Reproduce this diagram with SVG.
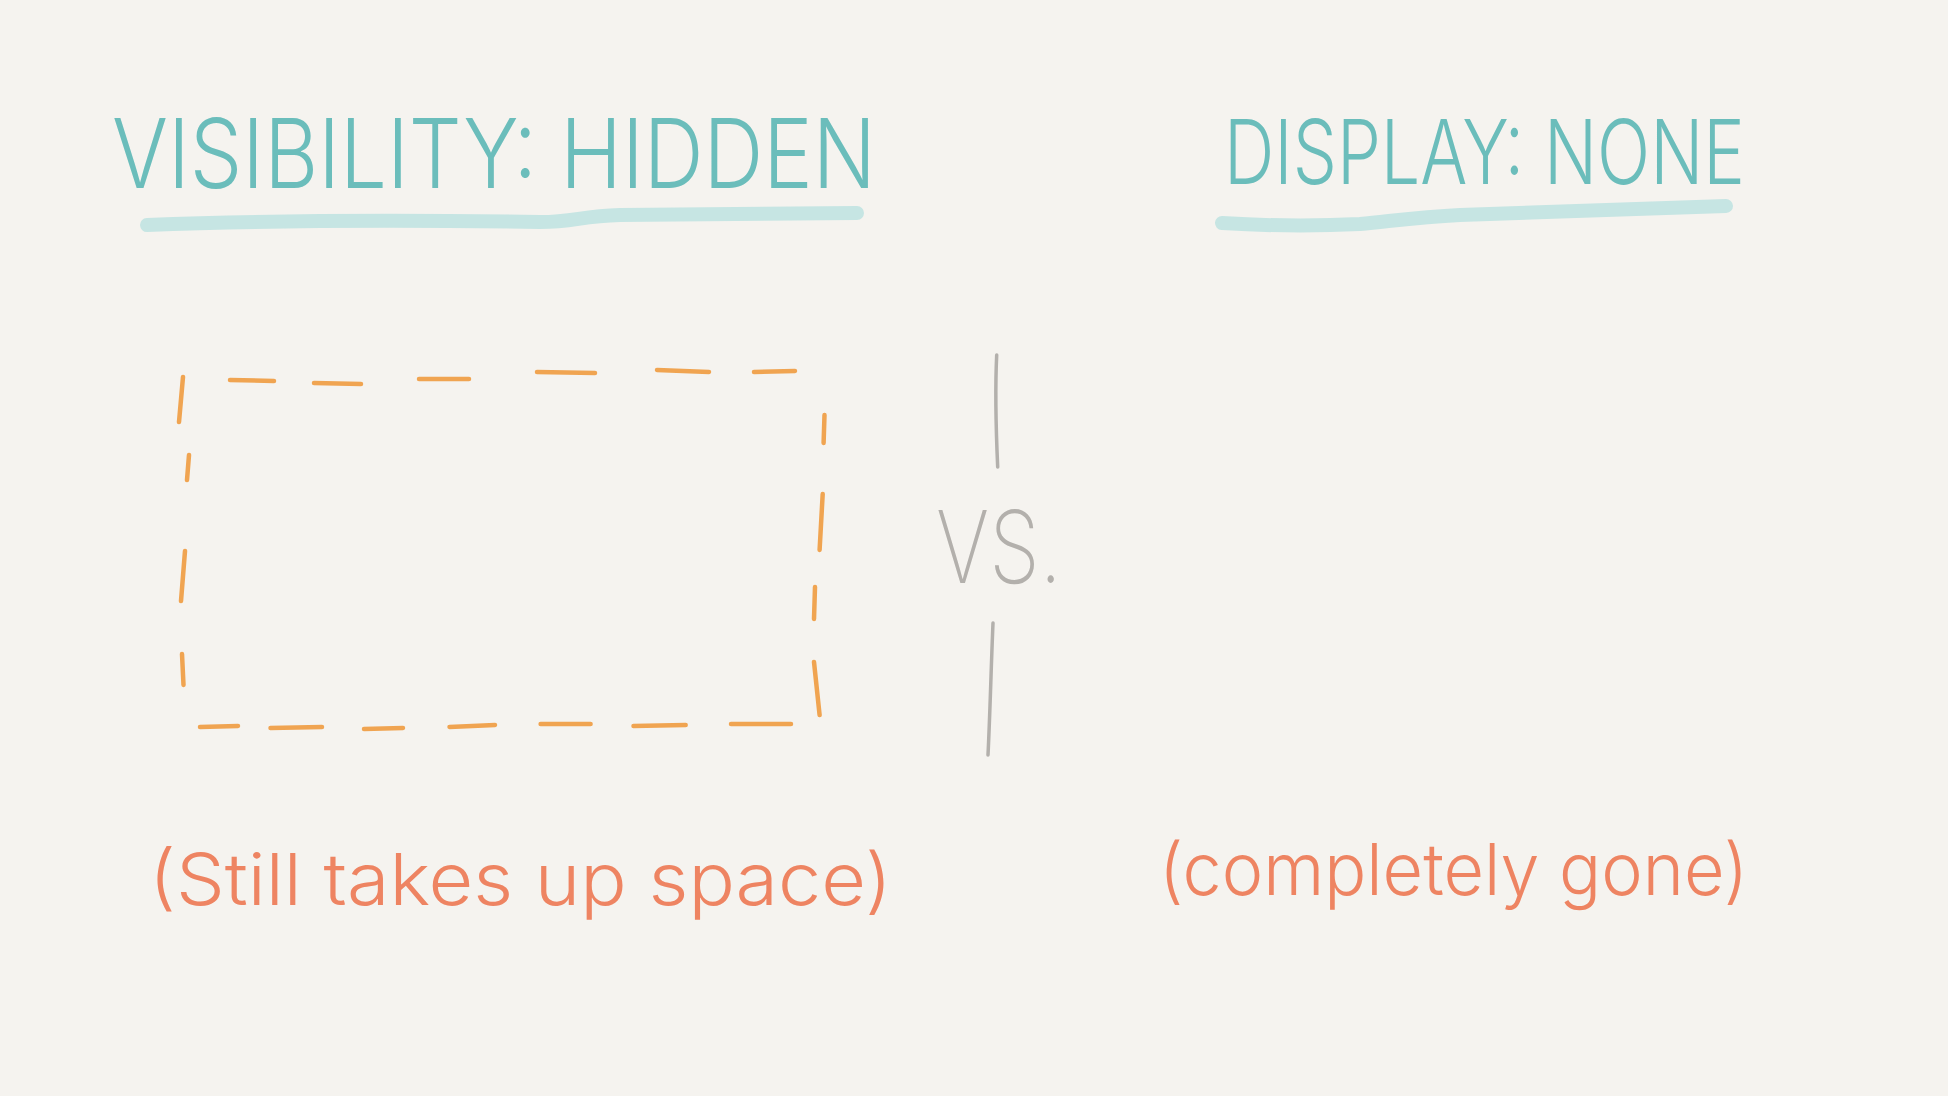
<svg xmlns="http://www.w3.org/2000/svg" width="1948" height="1096" viewBox="0 0 1948 1096">
<style>
.title{font-family:Inter,"Open Sans","Liberation Sans",sans-serif;font-weight:300;fill:#6bbdbb}
.uline{fill:none;stroke:#c6e5e3;stroke-width:14;stroke-linecap:round}
.dash{fill:none;stroke:#f0a451;stroke-width:4.5;stroke-linecap:round}
.gray{fill:none;stroke:#b3b0ac;stroke-width:3.5;stroke-linecap:round}
.vs{font-family:Inter,"Open Sans","Liberation Sans",sans-serif;font-weight:200;fill:#b3b0ac}
.note{font-family:Inter,"Open Sans","Liberation Sans",sans-serif;font-weight:300;fill:#ee8462}
</style>
<rect width="1948" height="1096" fill="#f5f3ef"/>
<g id="title-visibility">
<text class="title" x="112" y="188" font-size="96" textLength="764" lengthAdjust="spacingAndGlyphs">VISIBILITY: HIDDEN</text>
<path class="uline" d="M147,225 C250,221 400,220 540,222 C575,222 580,216 620,215 L857,213"/>
</g>
<g id="title-display">
<text class="title" x="1224" y="184" font-size="90" textLength="521" lengthAdjust="spacingAndGlyphs">DISPLAY: NONE</text>
<path class="uline" d="M1222,223 C1270,226 1320,226 1360,224 C1400,220 1420,217 1460,215 L1726,206"/>
</g>
<g id="hidden-box">
<path class="dash" d="M230,380 L274,381 M314,383 L361,384 M419,379 L469,379 M537,372 L595,373 M657,370 L709,372 M754,372 L795,371"/>
<path class="dash" d="M183,377 L179,422 M189,455 L187,480 M185,551 L181,601 M182,654 L183.5,685"/>
<path class="dash" d="M824.5,415 L823.6,443 M822.7,494 L819.6,550 M815,587 L814,619 M814,662 L819.6,715"/>
<path class="dash" d="M200,727 L238,726 M270.5,728 L322,727 M364,729 L403,728 M449.5,727 L495,725 M540.6,724 L590.6,724 M633.5,726 L685.7,725 M731,724 L791,724"/>
</g>
<g id="divider">
<path class="gray" d="M996.7,355 C995,390 996,430 997.7,467"/>
<path class="gray" d="M993,623 C991,670 990,715 988,755"/>
<text class="vs" x="936" y="583" font-size="100" textLength="126" lengthAdjust="spacingAndGlyphs">VS.</text>
</g>
<g id="note-hidden">
<text class="note" x="149" y="905" font-size="72" textLength="743" lengthAdjust="spacingAndGlyphs">(Still takes up space)</text>
</g>
<g id="note-display">
<text class="note" x="1159" y="895" font-size="72" textLength="589" lengthAdjust="spacingAndGlyphs">(completely gone)</text>
</g>
</svg>
